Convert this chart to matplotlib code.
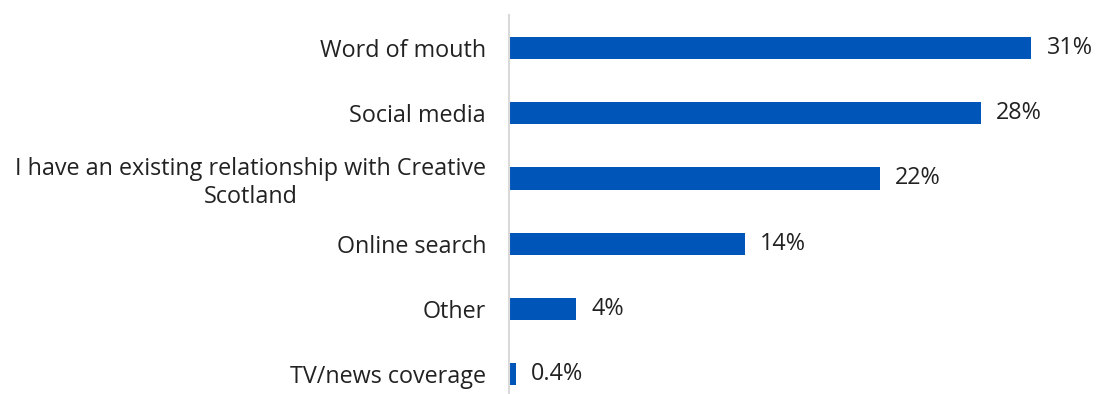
import matplotlib.pyplot as plt

plt.rcParams['font.family'] = ['Open Sans', 'DejaVu Sans']

categories = ['Word of mouth', 'Social media',
              'I have an existing relationship with Creative\nScotland',
              'Online search', 'Other', 'TV/news coverage']
values = [31, 28, 22, 14, 4, 0.4]
labels = ['31%', '28%', '22%', '14%', '4%', '0.4%']

bar_color = '#0055B8'
text_color = '#222222'
fs = 16.8

fig = plt.figure(figsize=(10.97, 3.94), dpi=100)
ax = fig.add_axes([509 / 1097, 0, 588 / 1097, 1 - 15 / 394])

ypos = list(range(len(categories)))
ax.barh(ypos, values, height=0.34, color=bar_color)

# percentage labels just past the end of each bar
for y, v, lab in zip(ypos, values, labels):
    ax.text(v + 0.9, y, lab, va='center', ha='left', fontsize=fs, color=text_color)

ax.set_xlim(0, 34.9)
ax.set_ylim(5.31, -0.51)
ax.set_yticks(ypos)
ax.set_yticklabels(categories, fontsize=fs, color=text_color, ha='right',
                   multialignment='center', linespacing=1.2)
ax.tick_params(axis='y', length=0, pad=16.5)
ax.set_xticks([])

for s in ['top', 'right', 'bottom']:
    ax.spines[s].set_visible(False)
ax.spines['left'].set_color('#d9d9d9')
ax.spines['left'].set_linewidth(1.5)

fig.savefig('out.png', dpi=100)
